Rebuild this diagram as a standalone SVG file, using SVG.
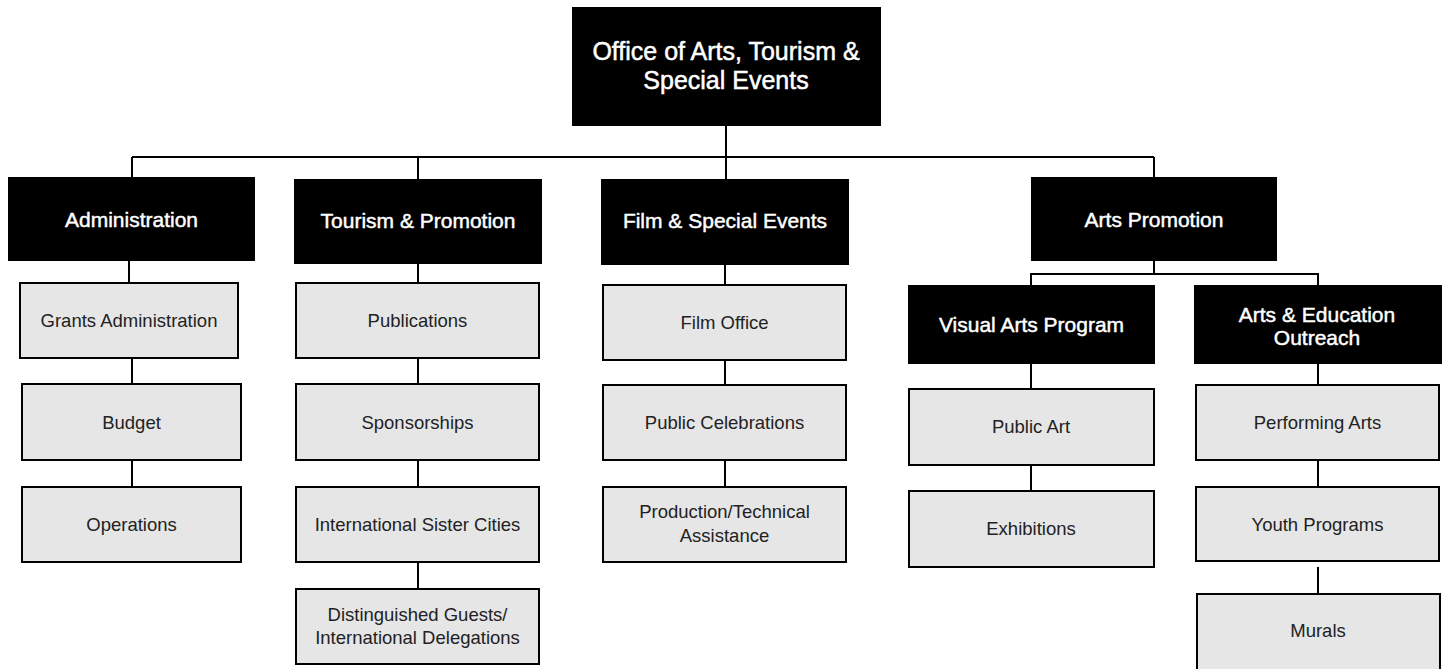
<svg xmlns="http://www.w3.org/2000/svg" width="1442" height="669" viewBox="0 0 1442 669">
  <style>
    .hdr { fill: #000; }
    .unit { fill: #e6e6e6; stroke: #000; stroke-width: 2; }
    .hdr-t { fill: #fff; stroke: #fff; stroke-width: 0.45; font-family: "Liberation Sans", Arial, sans-serif; font-size: 21px; text-anchor: middle; }
    .top-t { fill: #fff; stroke: #fff; stroke-width: 0.5; font-family: "Liberation Sans", Arial, sans-serif; font-size: 25px; text-anchor: middle; }
    .unit-t { fill: #222; font-family: "Liberation Sans", Arial, sans-serif; font-size: 18.5px; text-anchor: middle; }
    .conn { stroke: #000; stroke-width: 2; fill: none; }
  </style>
  <rect width="1442" height="669" fill="#fff"/>

  <!-- connectors -->
  <g id="connectors" class="conn">
    <path d="M726 126 V179"/>
    <path d="M132 157 H1154"/>
    <path d="M132 157 V177"/>
    <path d="M418 157 V179"/>
    <path d="M1154 157 V177"/>
    <!-- Administration column -->
    <path d="M129 261 V282"/>
    <path d="M132 355 V383"/>
    <path d="M132 461 V486"/>
    <!-- Tourism column -->
    <path d="M418 264 V282"/>
    <path d="M418 355 V383"/>
    <path d="M418 461 V486"/>
    <path d="M418 563 V588"/>
    <!-- Film column -->
    <path d="M725 265 V284"/>
    <path d="M725 358 V384"/>
    <path d="M725 461 V486"/>
    <!-- Arts Promotion branch -->
    <path d="M1154 261 V274"/>
    <path d="M1031 285 V274 H1318 V285"/>
    <path d="M1031 364 V388"/>
    <path d="M1031 466 V490"/>
    <path d="M1318 364 V384"/>
    <path d="M1318 461 V486"/>
    <path d="M1318 567 V593"/>
  </g>

  <!-- top office -->
  <g id="office">
    <rect class="hdr" x="572" y="7" width="309" height="119"/>
    <text class="top-t" x="726" y="60">Office of Arts, Tourism &amp;</text>
    <text class="top-t" x="726" y="89">Special Events</text>
  </g>

  <!-- divisions -->
  <g id="administration">
    <rect class="hdr" x="8" y="177" width="247" height="84"/>
    <text class="hdr-t" x="131.5" y="227">Administration</text>
  </g>
  <g id="tourism-promotion">
    <rect class="hdr" x="294" y="179" width="248" height="85"/>
    <text class="hdr-t" x="418" y="228">Tourism &amp; Promotion</text>
  </g>
  <g id="film-special-events">
    <rect class="hdr" x="601" y="179" width="248" height="86"/>
    <text class="hdr-t" x="725" y="228">Film &amp; Special Events</text>
  </g>
  <g id="arts-promotion">
    <rect class="hdr" x="1031" y="177" width="246" height="84"/>
    <text class="hdr-t" x="1154" y="227">Arts Promotion</text>
  </g>
  <g id="visual-arts-program">
    <rect class="hdr" x="908" y="285" width="247" height="79"/>
    <text class="hdr-t" x="1031.5" y="332">Visual Arts Program</text>
  </g>
  <g id="arts-education-outreach">
    <rect class="hdr" x="1194" y="285" width="248" height="79"/>
    <text class="hdr-t" x="1317" y="322">Arts &amp; Education</text>
    <text class="hdr-t" x="1317" y="345">Outreach</text>
  </g>

  <!-- Administration units -->
  <g id="grants-administration">
    <rect class="unit" x="20" y="283" width="218" height="75"/>
    <text class="unit-t" x="129" y="327">Grants Administration</text>
  </g>
  <g id="budget">
    <rect class="unit" x="22" y="384" width="219" height="76"/>
    <text class="unit-t" x="131.5" y="428.5">Budget</text>
  </g>
  <g id="operations">
    <rect class="unit" x="22" y="487" width="219" height="75"/>
    <text class="unit-t" x="131.5" y="531">Operations</text>
  </g>

  <!-- Tourism units -->
  <g id="publications">
    <rect class="unit" x="296" y="283" width="243" height="75"/>
    <text class="unit-t" x="417.5" y="327">Publications</text>
  </g>
  <g id="sponsorships">
    <rect class="unit" x="296" y="384" width="243" height="76"/>
    <text class="unit-t" x="417.5" y="428.5">Sponsorships</text>
  </g>
  <g id="sister-cities">
    <rect class="unit" x="296" y="487" width="243" height="75"/>
    <text class="unit-t" x="417.5" y="531">International Sister Cities</text>
  </g>
  <g id="distinguished-guests">
    <rect class="unit" x="296" y="589" width="243" height="75"/>
    <text class="unit-t" x="417.5" y="621">Distinguished Guests/</text>
    <text class="unit-t" x="417.5" y="644">International Delegations</text>
  </g>

  <!-- Film units -->
  <g id="film-office">
    <rect class="unit" x="603" y="285" width="243" height="75"/>
    <text class="unit-t" x="724.5" y="329">Film Office</text>
  </g>
  <g id="public-celebrations">
    <rect class="unit" x="603" y="385" width="243" height="75"/>
    <text class="unit-t" x="724.5" y="429">Public Celebrations</text>
  </g>
  <g id="production-assistance">
    <rect class="unit" x="603" y="487" width="243" height="75"/>
    <text class="unit-t" x="724.5" y="518">Production/Technical</text>
    <text class="unit-t" x="724.5" y="542">Assistance</text>
  </g>

  <!-- Visual Arts units -->
  <g id="public-art">
    <rect class="unit" x="909" y="389" width="245" height="76"/>
    <text class="unit-t" x="1031" y="433">Public Art</text>
  </g>
  <g id="exhibitions">
    <rect class="unit" x="909" y="491" width="245" height="76"/>
    <text class="unit-t" x="1031" y="535">Exhibitions</text>
  </g>

  <!-- Arts & Education units -->
  <g id="performing-arts">
    <rect class="unit" x="1196" y="385" width="243" height="75"/>
    <text class="unit-t" x="1317.5" y="429">Performing Arts</text>
  </g>
  <g id="youth-programs">
    <rect class="unit" x="1196" y="487" width="243" height="74"/>
    <text class="unit-t" x="1317.5" y="531">Youth Programs</text>
  </g>
  <g id="murals">
    <rect class="unit" x="1197" y="594" width="243" height="80"/>
    <text class="unit-t" x="1318" y="637">Murals</text>
  </g>
</svg>
